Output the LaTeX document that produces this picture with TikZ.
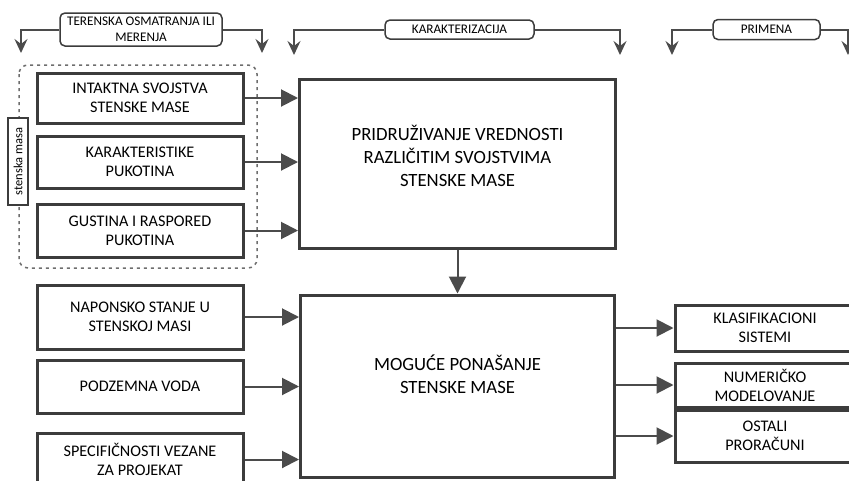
\documentclass[tikz,border=0pt]{standalone}
\usepackage{fontspec}
\setmainfont{Carlito}
\usepackage{tikz}
\usetikzlibrary{arrows.meta,positioning}
\definecolor{frame}{RGB}{60,60,60}
\definecolor{wire}{RGB}{75,75,75}
\definecolor{dots}{RGB}{110,110,110}
\newcommand{\boxfont}{\fontsize{16.2}{19}\selectfont}
\newcommand{\bigfont}{\fontsize{18.7}{23}\selectfont}
\newcommand{\headfont}{\fontsize{13.2}{16}\selectfont}
\newcommand{\sidefont}{\fontsize{12.5}{15}\selectfont}
\tikzset{
  inbox/.style={draw=frame,line width=3pt,minimum width=206pt,align=center,font=\boxfont,inner sep=0pt},
  outbox/.style={draw=frame,line width=3pt,minimum width=180pt,align=center,font=\boxfont,inner sep=0pt},
  bigbox/.style={draw=frame,line width=3pt,align=center,font=\bigfont,inner sep=0pt},
  headbox/.style={draw=frame,line width=1.5pt,rounded corners=5pt,fill=white,align=center,font=\headfont,inner sep=0pt},
  feed/.style={wire,line width=2pt,-{Triangle[length=17pt,width=17pt]}},
  drop/.style={wire,line width=2pt,-{Stealth[length=14pt,width=13pt,inset=5pt]}}
}
\begin{document}
\begin{tikzpicture}[x=1pt,y=-1pt]
        \useasboundingbox (0,0) rectangle (849,480);
        % grouping frame
        \draw[dots,line width=1.5pt,dash pattern=on 3pt off 4pt,rounded corners=9pt] (19,65) rectangle (257,268);
        \node[draw=frame,line width=1.5pt,fill=white,rotate=90,minimum width=87pt,minimum height=20pt,inner sep=0pt,font=\sidefont] (side) at (18,161.5) {stenska masa};
        % inputs
        \node[inbox,minimum height=50pt] (intact) at (140,98) {INTAKTNA SVOJSTVA\\STENSKE MASE};
        \node[inbox,minimum height=52pt] (crack) at (140,162) {KARAKTERISTIKE\\PUKOTINA};
        \node[inbox,minimum height=53pt] (density) at (140,230.5) {GUSTINA I RASPORED\\PUKOTINA};
        \node[inbox,minimum height=64pt] (stress) at (140,317) {NAPONSKO STANJE U\\STENSKOJ MASI};
        \node[inbox,minimum height=53pt] (water) at (140,386.5) {PODZEMNA VODA};
        \node[inbox,minimum height=53pt] (project) at (140,459.5) {SPECIFIČNOSTI VEZANE\\ZA PROJEKAT};
        % main boxes
        \node[bigbox,minimum width=316pt,minimum height=169pt] (assign) at (457.5,163.5) {};
        \node[font=\bigfont,align=center] (assigntxt) at (457.5,156) {PRIDRUŽIVANJE VREDNOSTI\\RAZLIČITIM SVOJSTVIMA\\STENSKE MASE};
        \node[bigbox,minimum width=314pt,minimum height=182pt] (behave) at (457.5,386) {};
        \node[font=\bigfont,align=center] (behavetxt) at (457.5,374) {MOGUĆE PONAŠANJE\\STENSKE MASE};
        % outputs
        \node[outbox,minimum height=46pt] (class) at (765,328) {KLASIFIKACIONI\\SISTEMI};
        \node[outbox,minimum height=44pt] (numeric) at (765,385) {NUMERIČKO\\MODELOVANJE};
        \node[outbox,minimum height=52pt] (other) at (765,436) {OSTALI\\PRORAČUNI};
        % headers
        \node[headbox,minimum width=162pt,minimum height=33pt] (field) at (141,29.5) {TERENSKA OSMATRANJA ILI\\MERENJA};
        \node[headbox,minimum width=149pt,minimum height=19pt] (charac) at (459.5,29.5) {KARAKTERIZACIJA};
        \node[headbox,minimum width=107pt,minimum height=20pt] (use) at (766.5,29.5) {PRIMENA};
        \coordinate (fieldL) at (21,53);
        \coordinate (fieldR) at (262,53);
        \coordinate (characL) at (294,55);
        \coordinate (characR) at (620,55);
        \coordinate (useL) at (672,55);
        \coordinate (useR) at (848,55);
        \draw[drop] (field.west) -| (fieldL);
        \draw[drop] (field.east) -| (fieldR);
        \draw[drop] (charac.west) -| (characL);
        \draw[drop] (charac.east) -| (characR);
        \draw[drop] (use.west) -| (useL);
        \draw[drop] (use.east) -| (useR);
        % connectors
        \foreach \src in {intact,crack,density}
          \draw[feed] (\src.east) -- (\src.east -| assign.west);
        \foreach \src in {stress,water,project}
          \draw[feed] (\src.east) -- (\src.east -| behave.west);
        \draw[feed] (assign.south) -- (behave.north);
        \foreach \dst in {class,numeric,other}
          \draw[feed] (\dst.west -| behave.east) -- (\dst.west);
      \end{tikzpicture}
\end{document}
